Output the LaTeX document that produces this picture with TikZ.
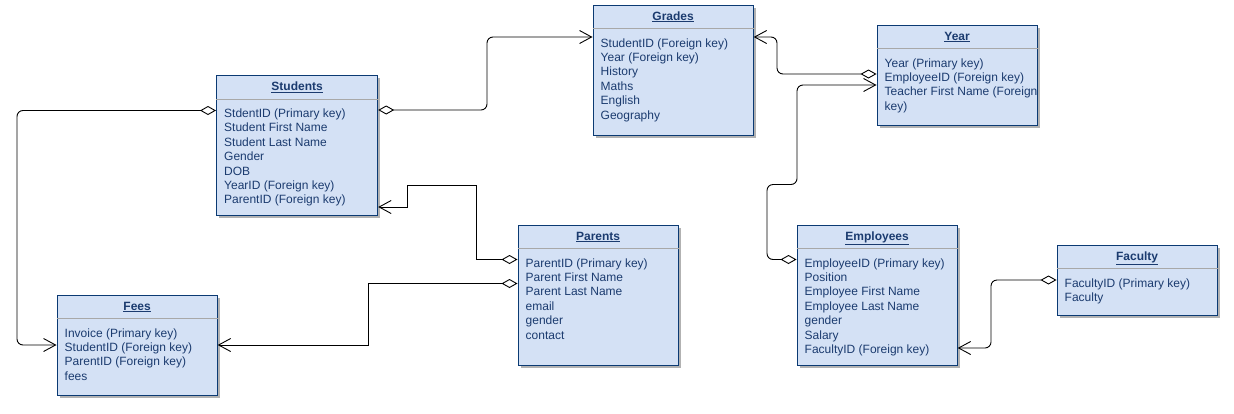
\documentclass[tikz,border=0pt]{standalone}
\usepackage{fontspec}
\setmainfont{Liberation Sans}
\usetikzlibrary{arrows.meta,shadows}
\definecolor{efill}{HTML}{D4E1F5}
\definecolor{edraw}{HTML}{0B3A73}
\definecolor{etext}{HTML}{1B3B6F}
\definecolor{esep}{HTML}{A8A8A8}
\tikzset{
  ebox/.style={draw=edraw, fill=efill, line width=1.2pt, inner sep=0pt, rectangle,
    drop shadow={shadow xshift=2.5pt, shadow yshift=-2.5pt, opacity=0.3, fill=black}},
  etitle/.style={font=\fontsize{12pt}{14.4pt}\selectfont\bfseries, text=etext, inner sep=0pt},
  erowtext/.style={font=\fontsize{12pt}{14.4pt}\selectfont, text=etext, inner sep=0pt},
  esepline/.style={draw=esep, line width=1pt},
  rel/.style={draw=black, line width=0.9pt,
    {Diamond[fill=white,length=16pt,width=9pt]}-{Straight Barb[length=12pt,width=13pt]}},
  relr/.style={rel, rounded corners=6pt},
}
\newcommand{\entity}[6]{%
  \node[ebox, minimum width=#4pt, minimum height=#5pt, anchor=north west] (#1) at (#2,#3) {};
  \node[etitle, anchor=base] (#1-t) at ([yshift=-15.5pt]#1.north) {\underline{#6}};
  \draw[esepline] ([yshift=-24pt]#1.north west) -- ([yshift=-24pt]#1.north east);
}
\newcommand{\erow}[3]{%
  \node[erowtext, anchor=base west] (#1-r#2) at ([xshift=8pt,yshift=-42.5pt-#2*14.4pt]#1.north west) {#3};
}
\begin{document}
\begin{tikzpicture}[x=1pt,y=-1pt]
\useasboundingbox (0,0) rectangle (1234,413);

% Students
\entity{students}{216}{75}{161}{140}{Students}
\erow{students}{0}{StdentID (Primary key)}
\erow{students}{1}{Student First Name}
\erow{students}{2}{Student Last Name}
\erow{students}{3}{Gender}
\erow{students}{4}{DOB}
\erow{students}{5}{YearID (Foreign key)}
\erow{students}{6}{ParentID (Foreign key)}

% Grades
\entity{grades}{592.5}{4.5}{160}{130}{Grades}
\erow{grades}{0}{StudentID (Foreign key)}
\erow{grades}{1}{Year (Foreign key)}
\erow{grades}{2}{History}
\erow{grades}{3}{Maths}
\erow{grades}{4}{English}
\erow{grades}{5}{Geography}

% Year
\entity{year}{876.5}{24.5}{160}{100}{Year}
\erow{year}{0}{Year (Primary key)}
\erow{year}{1}{EmployeeID (Foreign key)}
\erow{year}{2}{Teacher First Name (Foreign}
\erow{year}{3}{key)}

% Parents
\entity{parents}{517.5}{224.5}{160}{140}{Parents}
\erow{parents}{0}{ParentID (Primary key)}
\erow{parents}{1}{Parent First Name}
\erow{parents}{2}{Parent Last Name}
\erow{parents}{3}{email}
\erow{parents}{4}{gender}
\erow{parents}{5}{contact}

% Fees
\entity{fees}{56.5}{294.5}{160}{100}{Fees}
\erow{fees}{0}{Invoice (Primary key)}
\erow{fees}{1}{StudentID (Foreign key)}
\erow{fees}{2}{ParentID (Foreign key)}
\erow{fees}{3}{fees}

% Employees
\entity{employees}{796.5}{224.5}{160}{140}{Employees}
\erow{employees}{0}{EmployeeID (Primary key)}
\erow{employees}{1}{Position}
\erow{employees}{2}{Employee First Name}
\erow{employees}{3}{Employee Last Name}
\erow{employees}{4}{gender}
\erow{employees}{5}{Salary}
\erow{employees}{6}{FacultyID (Foreign key)}

% Faculty
\entity{faculty}{1056.5}{244.5}{160}{70}{Faculty}
\erow{faculty}{0}{FacultyID (Primary key)}
\erow{faculty}{1}{Faculty}

% Connectors
\draw[relr] ([yshift=-35pt]students.north east) -- (487,110) -- (487,37) -- ([yshift=-32.5pt]grades.north west);
\draw[relr] ([yshift=-49.5pt]year.north west) -- (777,74) -- (777,37) -- ([yshift=-32.5pt]grades.north east);
\draw[relr] ([yshift=-35pt]employees.north west) -- (767,259.5) -- (767,184.5) -- (797,184.5) -- (797,85) -- ([yshift=-60.5pt]year.north west);
\draw[relr] ([yshift=-35.5pt]students.north west) -- (17,110.5) -- (17,345) -- ([yshift=-50.5pt]fees.north west);
\draw[rel] ([yshift=-35pt]parents.north west) -- (476,259.5) -- (476,185) -- (407,185) -- (407,207) -- ([yshift=-132pt]students.north east);
\draw[rel] ([yshift=-59pt]parents.north west) -- (368,283.5) -- (368,345) -- ([yshift=-50.5pt]fees.north east);
\draw[relr] ([yshift=-35.5pt]faculty.north west) -- (991,280) -- (991,348) -- ([yshift=-123.5pt]employees.north east);
\end{tikzpicture}
\end{document}
